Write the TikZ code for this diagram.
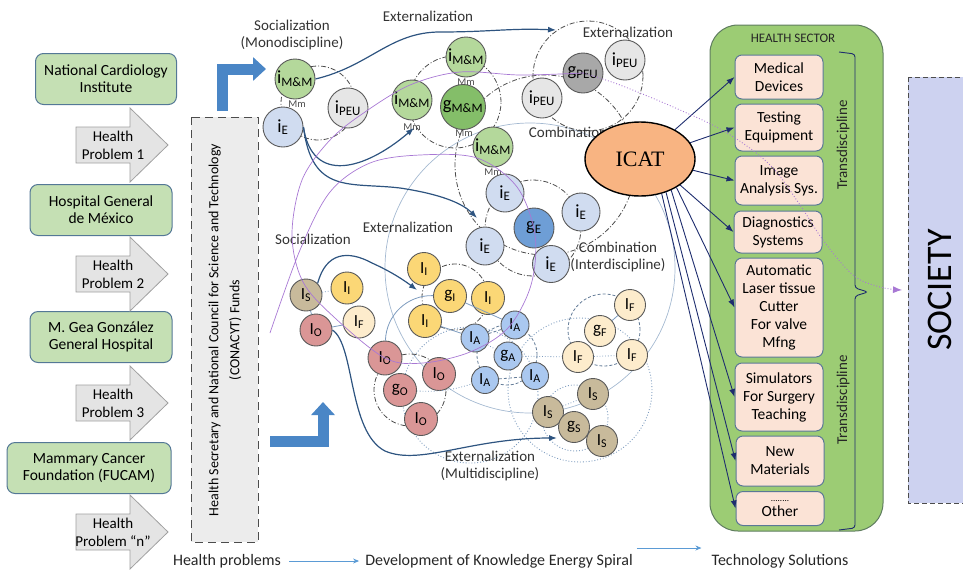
\documentclass[tikz,border=0pt]{standalone}
\usepackage{fontspec}
\setmainfont{Carlito}
\newfontfamily\icatfont{Liberation Serif}
\usetikzlibrary{arrows.meta,shapes.geometric}

\definecolor{orggreen}{RGB}{197,224,180}
\definecolor{orgedge}{RGB}{84,120,150}
\definecolor{hpgrey}{RGB}{228,228,228}
\definecolor{hpedge}{RGB}{160,160,160}
\definecolor{fundgrey}{RGB}{236,236,236}
\definecolor{flowblue}{RGB}{74,134,198}
\definecolor{navy}{RGB}{46,84,128}
\definecolor{icatnavy}{RGB}{30,45,110}
\definecolor{sectgreen}{RGB}{156,204,116}
\definecolor{sectedge}{RGB}{95,125,95}
\definecolor{solpeach}{RGB}{251,227,214}
\definecolor{soledge}{RGB}{90,120,150}
\definecolor{socblue}{RGB}{205,210,240}
\definecolor{icatorange}{RGB}{248,180,130}
\definecolor{spiral}{RGB}{168,120,212}
\definecolor{linkblue}{RGB}{125,155,190}
\definecolor{arrowblue}{RGB}{91,155,213}
\definecolor{mmgreen}{RGB}{180,216,155}
\definecolor{gmmgreen}{RGB}{132,190,105}
\definecolor{peugrey}{RGB}{230,230,230}
\definecolor{gpeugrey}{RGB}{168,168,168}
\definecolor{eblue}{RGB}{208,220,240}
\definecolor{geblue}{RGB}{110,158,214}
\definecolor{iyellow}{RGB}{251,215,118}
\definecolor{fcream}{RGB}{253,236,204}
\definecolor{opink}{RGB}{218,150,150}
\definecolor{ablue}{RGB}{170,200,240}
\definecolor{stan}{RGB}{200,186,155}

\tikzset{
  orgbox/.style={draw=orgedge, fill=orggreen, rounded corners=8pt, line width=1pt,
    minimum width=141pt, minimum height=51pt, align=center, inner sep=0pt,
    font=\fontsize{15.5}{17}\selectfont},
  hpshape/.style={draw=hpedge, fill=hpgrey, line width=0.8pt},
  hptext/.style={align=center, inner sep=0pt, font=\fontsize{15}{18}\selectfont},
  fundbox/.style={draw=black!70, fill=fundgrey, line width=0.8pt, dash pattern=on 8pt off 5pt},
  flowarrow/.style={draw=flowblue, line width=11pt, line join=miter,
    -{Triangle[width=23pt,length=13pt]}},
  kn/.style={circle, draw=black!65, line width=0.9pt, inner sep=0pt, minimum size=40pt,
    font=\fontsize{18.5}{18}\selectfont},
  kns/.style={kn, minimum size=32pt, font=\fontsize{17}{17}\selectfont},
  mmlab/.style={font=\fontsize{10.5}{10}\selectfont, text=black!70, inner sep=0pt},
  spirlab/.style={align=center, inner sep=0pt, text=black!80, font=\fontsize{15}{17}\selectfont},
  ddring/.style={draw=black!70, line width=0.8pt, dash pattern=on 5pt off 2pt on 1pt off 2pt},
  dashring/.style={draw=linkblue!80!black, line width=0.8pt, dash pattern=on 3pt off 2pt},
  dotring/.style={draw=linkblue, line width=0.9pt, dotted},
  softring/.style={draw=linkblue!70, line width=0.7pt},
  knlink/.style={draw=linkblue, line width=0.8pt},
  knlinkdot/.style={knlink, dotted},
  spiralarrow/.style={draw=navy, line width=1.2pt, ->},
  spiralline/.style={draw=spiral, line width=0.7pt},
  spiraldot/.style={draw=spiral, line width=0.9pt, dotted, -{Latex[length=9pt,width=7pt]}},
  sectbox/.style={draw=sectedge, fill=sectgreen, line width=1pt, rounded corners=28pt},
  solbox/.style={draw=soledge, fill=solpeach, rounded corners=7pt, line width=1pt,
    minimum width=88pt, align=center, inner sep=0pt, font=\fontsize{15.5}{18}\selectfont},
  icatarrow/.style={draw=icatnavy, line width=0.9pt, ->},
  transtext/.style={rotate=90, inner sep=0pt, text=black!85, font=\fontsize{15}{15}\selectfont},
  bracket/.style={draw=icatnavy, line width=0.9pt, rounded corners=3pt},
  socbox/.style={draw=black!70, fill=socblue, line width=0.8pt, dash pattern=on 5pt off 3pt},
  baselab/.style={inner sep=4pt, text=black!85, font=\fontsize{16}{16}\selectfont},
  lightarrow/.style={draw=arrowblue, line width=0.9pt, -{Stealth[length=6pt,width=5pt]}}
}

\newcommand{\hpblock}[3]{%
  \draw[hpshape] (76,{#1-18}) -- (130,{#1-18}) -- (130,{#1-37}) -- (168,#1)
    -- (130,{#1+37}) -- (130,{#1+18}) -- (76,{#1+18}) -- cycle;
  \node[hptext] (#2) at (113,#1) {#3};}

\begin{document}
\begin{tikzpicture}[x=1pt,y=-1pt,>={Latex[length=8pt,width=6pt]}]
    \useasboundingbox (0,0) rectangle (963,571);

    % hospitals and health problems
    \node[orgbox] (cardio) at (106,79) {National Cardiology\\Institute};
    \node[orgbox, minimum width=142pt] (hgm) at (101,210) {Hospital General\\de México};
    \node[orgbox, minimum width=142pt] (gea) at (101,337) {M. Gea González\\General Hospital};
    \node[orgbox, minimum width=164pt] (fucam) at (89,468) {Mammary Cancer\\Foundation (FUCAM)};
    \hpblock{145}{hpa}{Health\\Problem 1}
    \hpblock{274}{hpb}{Health\\Problem 2}
    \hpblock{403}{hpc}{Health\\Problem 3}
    \hpblock{532}{hpn}{Health\\Problem ``n''}

    \draw[fundbox] (191,117) rectangle (258,542);
    \node[hptext, rotate=90, font=\fontsize{14}{21}\selectfont] (funds) at (225,330)
        {Health Secretary and National Council for Science and Technology\\(CONACYT) Funds};

    \draw[flowarrow] (222,111) -- (222,69) -- (266,69);
    \draw[flowarrow] (270,441) -- (323,441) -- (323,402);

    % rings of the spiral
    \draw[softring] (530,268) circle[radius=145pt];
    \draw[dotring] (580,390) circle[radius=72pt];
    \draw[dotring] (470,395) circle[radius=68pt];
    \draw[ddring] (318,103) circle[radius=37pt];
    \draw[ddring] (455,102) circle[radius=46pt];
    \draw[ddring] (588,76) circle[radius=55pt];
    \draw[ddring] (545,165) circle[radius=90pt];
    \draw[ddring] (533,228) circle[radius=48pt];
    \draw[ddring] (455,297) circle[radius=33pt];
    \draw[ddring] (410,390) circle[radius=36pt];
    \draw[dashring] (507,355) circle[radius=30pt];
    \draw[dashring] (604,330) circle[radius=36pt];
    \draw[dotring] (575,418) circle[radius=33pt];

    % knowledge nodes
    \node[kn, fill=mmgreen] (mmA) at (295,79) {i\textsubscript{M\&M}};
    \node[kn, fill=eblue] (ieA) at (283,127) {i\textsubscript{E}};
    \node[kn, fill=peugrey] (peuA) at (348,108) {i\textsubscript{PEU}};
    \node[kn, fill=mmgreen] (mmB) at (412,100) {i\textsubscript{M\&M}};
    \node[kn, fill=mmgreen] (mmC) at (466,57) {i\textsubscript{M\&M}};
    \node[kn, fill=gmmgreen, minimum size=45pt] (gmm) at (463,107) {g\textsubscript{M\&M}};
    \node[kn, fill=mmgreen] (mmD) at (493,147) {i\textsubscript{M\&M}};
    \node[kn, fill=peugrey] (peuB) at (542,98) {i\textsubscript{PEU}};
    \node[kn, fill=gpeugrey] (gpeu) at (583,73) {g\textsubscript{PEU}};
    \node[kn, fill=peugrey] (peuC) at (625,60) {i\textsubscript{PEU}};

    \node[kn, fill=eblue, minimum size=38pt] (ieB) at (505,193) {i\textsubscript{E}};
    \node[kn, fill=geblue] (ge) at (534,228) {g\textsubscript{E}};
    \node[kn, fill=eblue, minimum size=38pt] (ieC) at (581,212) {i\textsubscript{E}};
    \node[kn, fill=eblue, minimum size=38pt] (ieD) at (485,246) {i\textsubscript{E}};
    \node[kn, fill=eblue, minimum size=37pt] (ieE) at (551,264) {i\textsubscript{E}};

    \node[kns, fill=stan] (isA) at (306,295) {I\textsubscript{S}};
    \node[kns, fill=iyellow] (iiA) at (347,288) {I\textsubscript{I}};
    \node[kns, fill=fcream] (ifA) at (359,322) {I\textsubscript{F}};
    \node[kns, fill=opink] (ioA) at (316,330) {I\textsubscript{O}};

    \node[kns, fill=iyellow, minimum size=33pt] (iiB) at (424,269) {I\textsubscript{I}};
    \node[kns, fill=iyellow, minimum size=33pt] (gi) at (450,296) {g\textsubscript{I}};
    \node[kns, fill=iyellow, minimum size=33pt] (iiC) at (488,298) {I\textsubscript{I}};
    \node[kns, fill=iyellow, minimum size=33pt] (iiD) at (425,321) {I\textsubscript{I}};

    \node[kns, fill=opink, minimum size=34pt] (ioB) at (385,358) {I\textsubscript{O}};
    \node[kns, fill=opink, minimum size=33pt] (ioC) at (439,374) {I\textsubscript{O}};
    \node[kns, fill=opink, minimum size=33pt] (go) at (400,390) {g\textsubscript{O}};
    \node[kns, fill=opink, minimum size=33pt] (ioD) at (421,419) {I\textsubscript{O}};

    \node[kns, fill=ablue, minimum size=28pt] (iaA) at (475,338) {I\textsubscript{A}};
    \node[kns, fill=ablue, minimum size=28pt] (iaB) at (515,325) {I\textsubscript{A}};
    \node[kns, fill=ablue, minimum size=28pt] (ga) at (508,356) {g\textsubscript{A}};
    \node[kns, fill=ablue, minimum size=27pt] (iaC) at (485,380) {I\textsubscript{A}};
    \node[kns, fill=ablue, minimum size=27pt] (iaD) at (535,376) {I\textsubscript{A}};

    \node[kns, fill=fcream, minimum size=31pt] (ifB) at (630,305) {I\textsubscript{F}};
    \node[kns, fill=fcream, minimum size=31pt] (gf) at (600,331) {g\textsubscript{F}};
    \node[kns, fill=fcream, minimum size=31pt] (ifC) at (578,357) {I\textsubscript{F}};
    \node[kns, fill=fcream, minimum size=31pt] (ifD) at (632,355) {I\textsubscript{F}};

    \node[kns, fill=stan, minimum size=31pt] (isB) at (593,394) {I\textsubscript{S}};
    \node[kns, fill=stan, minimum size=31pt] (isC) at (548,412) {I\textsubscript{S}};
    \node[kns, fill=stan, minimum size=31pt] (gs) at (574,427) {g\textsubscript{S}};
    \node[kns, fill=stan, minimum size=31pt] (isD) at (602,441) {I\textsubscript{S}};

    \draw[knlinkdot] (isA) -- (iiA);
    \draw[knlink] (isA) -- (ioA);
    \draw[knlink] (ioA) -- (ifA);
    \draw[knlinkdot] (iiA) -- (ifA);
    \draw[knlink] (ioB) to[bend left=45] (gi);
    \draw[knlink] (iiD) -- (iaA);
    \draw[knlink] (gi) -- (iaB);
    \draw[knlinkdot] (go) to[bend right=10] (iaC);
    \draw[knlinkdot] (iaA) -- (ga);
    \draw[dashring] (iaA) -- (iaB);
    \draw[dashring] (iaC) -- (iaD);
    \draw[knlinkdot] (ga) -- (ifC);
    \draw[knlinkdot] (ifC) -- (ifD);
    \draw[knlink] (gf) -- (ifB);
    \draw[knlinkdot] (isC) -- (isB);
    \draw[knlink] (gs) -- (isD);

    \node[mmlab] (mmAl) at (297,104) {Mm};
    \node[mmlab] (mmBl) at (412,127) {Mm};
    \node[mmlab] (mmCl) at (466,82) {Mm};
    \node[mmlab] (gmml) at (464,133) {Mm};
    \node[mmlab] (mmDl) at (493,172) {Mm};

    % spiral labels
    \node[spirlab] (socmono) at (292,35) {Socialization\\(Monodiscipline)};
    \node[spirlab] (extA) at (428,16) {Externalization};
    \node[spirlab] (extB) at (628,32) {Externalization};
    \node[spirlab] (combA) at (568,132) {Combination};
    \node[spirlab] (extC) at (408,227) {Externalization};
    \node[spirlab] (socB) at (313,239) {Socialization};
    \node[spirlab] (combinter) at (618,257) {Combination\\(Interdiscipline)};
    \node[spirlab] (extmulti) at (490,466) {Externalization\\(Multidiscipline)};

    % knowledge flows
    \coordinate (tipA) at (556,30);
    \coordinate (tipB) at (414,128);
    \coordinate (tipC) at (477,218);
    \coordinate (tipD) at (417,290);
    \coordinate (tipE) at (557,438);
    \draw[spiralarrow] (mmA.east) .. controls (370,66) and (390,32) .. (440,32)
        .. controls (490,32) and (510,28) .. (tipA);
    \draw[spiralarrow] (ieA.east) .. controls (312,185) and (365,170) .. (tipB);
    \draw[spiralarrow] (ieA.east) .. controls (312,195) and (350,182) .. (400,188)
        .. controls (440,194) and (462,203) .. (tipC);
    \draw[spiralarrow] (isA.north east) .. controls (326,252) and (348,250) .. (372,263)
        .. controls (392,272) and (405,281) .. (tipD);
    \draw[spiralarrow] (ioA.east) .. controls (355,345) and (348,432) .. (385,451)
        .. controls (420,466) and (470,438) .. (tipE);

    \draw[spiralline] plot[smooth, tension=0.55] coordinates {(270,333) (300,250) (330,192)
        (370,163) (420,155) (477,158) (517,187) (535,235) (531,285) (508,328) (470,352)
        (423,363) (385,358) (335,318) (303,282) (292,235) (302,180) (330,140) (365,112)
        (410,85) (460,72) (520,75) (583,73)};

    % health sector
    \draw[sectbox] (710,25) rectangle (883,531);
    \node[inner sep=0pt, text=black!85, font=\fontsize{13}{13}\selectfont] (hsect) at (793,38)
        {HEALTH SECTOR};
    \node[solbox, minimum height=44pt] (med) at (779,77) {Medical\\Devices};
    \node[solbox, minimum height=47pt] (test) at (779,127.5) {Testing\\Equipment};
    \node[solbox, minimum height=49pt] (img) at (779,180.5) {Image\\Analysis Sys.};
    \node[solbox, minimum height=42pt] (diag) at (778,232) {Diagnostics\\Systems};
    \node[solbox, minimum height=99pt] (laser) at (779,307.5)
        {Automatic\\Laser tissue\\Cutter\\For valve\\Mfng};
    \node[solbox, minimum height=68pt] (sim) at (779,397) {Simulators\\For Surgery\\Teaching};
    \node[solbox, minimum height=50pt] (mat) at (780,461) {New\\Materials};
    \node[solbox, minimum height=34pt] (other) at (780,508.5)
        {{\fontsize{9}{9}\selectfont ........}\\[-3pt]Other};
    \draw[bracket] (839,52) -- (855,54) -- (855,288) -- (868,292) -- (855,296)
        -- (855,528) -- (839,530);
    \node[transtext] (transA) at (843,145) {Transdiscipline};
    \node[transtext] (transB) at (843,400) {Transdiscipline};

    \node[ellipse, draw=black, line width=1.4pt, fill=icatorange, minimum width=110pt,
        minimum height=74pt, font=\icatfont\fontsize{22}{22}\selectfont] (icat) at (640,159) {ICAT};
    \foreach \b/\a in {med/40, test/18, img/-12, diag/-33, laser/-38, sim/-45, mat/-52, other/-58}
        \draw[icatarrow] (icat.\a) -- (\b.west);

    % society
    \draw[socbox] (908,77) rectangle (980,503);
    \node[rotate=90, inner sep=0pt, font=\fontsize{36}{36}\selectfont] (soc) at (940,290) {SOCIETY};
    \draw[spiraldot] plot[smooth, tension=0.6] coordinates {(583,73) (620,85) (680,110)
        (727,133) (770,165) (800,205) (823,240) (853,275) (880,287) (902,290)};

    % bottom line
    \node[baselab] (hprob) at (227,561) {Health problems};
    \node[baselab] (devk) at (499,561) {Development of Knowledge Energy Spiral};
    \node[baselab] (techs) at (780,561) {Technology Solutions};
    \draw[lightarrow] ([xshift=4pt]hprob.east) -- ([xshift=-2pt]devk.west);
    \draw[lightarrow] ([yshift=13pt]devk.east) -- ([yshift=13pt,xshift=-6pt]techs.west);
\end{tikzpicture}
\end{document}
